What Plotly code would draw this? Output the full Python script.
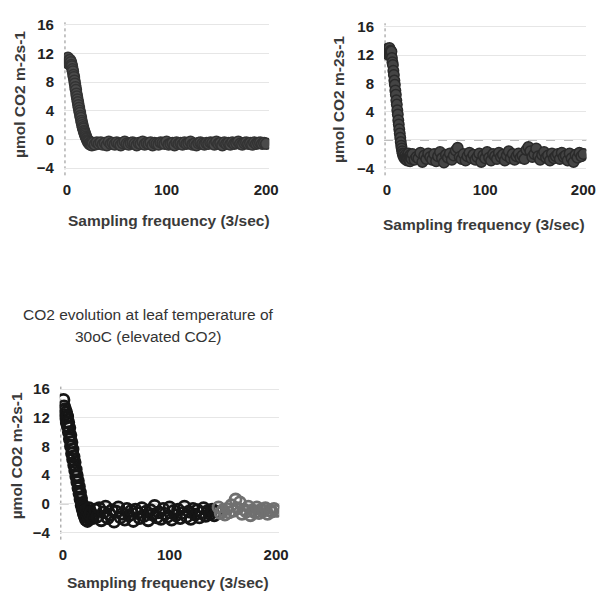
import plotly.graph_objects as go

# ---------------- data ----------------
# sampling index: half-steps through the fast decay, then every 2nd sample
x_decay = [i / 2 for i in range(0, 51)]          # 0 .. 25
x_rest = list(range(26, 201, 2))                 # 26 .. 200
x_samples = x_decay + x_rest

y_panel1 = [
    # decay (x = 0 .. 25 by 0.5)
    11.2, 10.8, 11.4, 10.6, 11.0, 10.5, 11.1, 10.6, 10.8, 10.4,
    10.2, 9.8, 9.5, 9.0, 8.7, 8.2, 7.8, 7.3, 6.9, 6.4,
    6.0, 5.6, 5.2, 4.8, 4.4, 4.0, 3.7, 3.3, 3.0, 2.6,
    2.3, 2.0, 1.7, 1.5, 1.2, 1.0, 0.8, 0.6, 0.4, 0.2,
    0.1, -0.1, -0.2, -0.4, -0.3, -0.6, -0.5, -0.7, -0.4, -0.6, -0.8,
    # steady state (x = 26 .. 200 by 2)
    -0.5, -0.7, -0.4,
    -0.6, -0.4, -0.7, -0.5, -0.8, -0.3, -0.6, -0.5, -0.7, -0.4,
    -0.6, -0.8, -0.5, -0.3, -0.6, -0.7, -0.5, -0.4, -0.6, -0.8,
    -0.5, -0.6, -0.3, -0.7, -0.5, -0.6, -0.4, -0.8, -0.5, -0.6,
    -0.7, -0.4, -0.5, -0.6, -0.3, -0.7, -0.6, -0.5, -0.8, -0.4,
    -0.6, -0.5, -0.7, -0.4, -0.6, -0.5, -0.3, -0.7, -0.6, -0.8,
    -0.5, -0.4, -0.6, -0.7, -0.5, -0.6, -0.4, -0.5, -0.7, -0.3,
    -0.6, -0.5, -0.8, -0.4, -0.6, -0.5, -0.7, -0.4, -0.6, -0.5,
    -0.3, -0.6, -0.7, -0.5, -0.4, -0.6, -0.5, -0.7, -0.4, -0.6,
    -0.5, -0.4, -0.6, -0.5, -0.6,
]

y_panel2 = [
    12.4, 12.9, 12.1, 12.7, 12.3, 13.0, 12.2, 12.6, 12.0, 12.5,
    11.6, 11.0, 10.6, 9.8, 9.2, 8.4, 7.8, 7.0, 6.4, 5.6,
    5.0, 4.2, 3.6, 2.8, 2.2, 1.5, 0.9, 0.3, -0.3, -0.8,
    -1.2, -1.6, -1.9, -2.2, -2.0, -2.5, -2.3, -2.7, -2.1, -2.6,
    -2.4, -2.9, -2.2, -2.6, -1.9, -2.8, -2.3, -3.0, -2.1, -2.5, -2.7,
    -2.0, -2.8, -2.4,
    -2.6, -1.8, -3.1, -2.2, -2.7, -1.9, -2.4, -2.8, -2.0, -3.0,
    -2.3, -1.7, -2.6, -3.2, -2.1, -2.5, -1.9, -2.8, -2.2, -1.5,
    -1.1, -2.4, -2.7, -2.0, -2.9, -2.3, -1.8, -2.6, -2.1, -2.8,
    -2.4, -1.9, -3.1, -2.2, -2.6, -1.7, -2.5, -2.9, -2.0, -2.3,
    -2.7, -1.8, -2.4, -2.1, -2.9, -2.2, -1.6, -2.6, -2.0, -2.8,
    -2.3, -1.9, -2.5, -2.2, -2.7, -1.4, -1.0, -1.6, -2.4, -2.0,
    -1.2, -2.3, -2.8, -2.1, -1.7, -2.5, -2.2, -2.9, -1.9, -2.6,
    -2.3, -2.0, -2.7, -1.8, -2.4, -2.2, -2.9, -1.9, -2.6, -3.1,
    -2.1, -2.5, -1.8, -2.3, -2.0,
]

y_panel3 = [
    13.0, 14.5, 13.6, 12.4, 13.2, 12.0, 12.8, 11.4, 12.2, 10.8,
    11.4, 10.0, 10.6, 9.0, 9.6, 8.0, 8.6, 7.0, 7.6, 6.2,
    6.6, 5.4, 5.8, 4.6, 4.8, 3.8, 4.0, 3.0, 3.2, 2.2,
    2.4, 1.4, 1.6, 0.6, 0.8, -0.2, 0.0, -0.8, -0.4, -1.4,
    -0.6, -1.8, -1.0, -2.2, -0.8, -1.6, -2.4, -1.2, -2.0, -0.6, -1.5,
    -1.2, -2.0, -0.8,
    -1.8, -0.6, -2.3, -1.2, -0.4, -2.0, -1.5, -0.9, -2.5, -1.1,
    -0.5, -1.9, -1.4, -2.2, -0.7, -1.6, -1.0, -2.4, -0.8, -1.3,
    -2.0, -0.6, -1.7, -1.1, -2.3, -0.9, -1.5, -0.3, -1.9, -1.2,
    -2.1, -0.7, -1.4, -1.8, -0.5, -2.2, -1.0, -1.6, -0.8, -2.0,
    -1.3, -0.4, -1.8, -1.1, -2.1, -0.7, -1.5, -0.9, -1.9, -1.2,
    -0.6, -1.7, -1.0, -1.4, -0.8, -1.6, -1.1, -0.5, -1.3, -0.9,
    -1.5, -0.7, -1.2, -0.2, -1.0, 0.6, -0.6, 0.2, -1.4, -0.8,
    -1.1, -0.4, -1.6, -0.9, -1.2, -0.5, -1.3, -0.8, -1.0, -0.6,
    -1.4, -0.9, -1.1, -0.7, -1.0,
]

y_ticks = [-4, 0, 4, 8, 12, 16]
x_ticks = [0, 100, 200]
y_title = "µmol CO2 m-2s-1"
x_title = "Sampling frequency (3/sec)"
panel3_title = ["CO2 evolution at leaf temperature of", "30oC (elevated CO2)"]
grey_from = 146  # later part of panel 3 drawn lighter

# ---------------- figure ----------------
W, H = 605, 593
OFF = 8  # the page body margin shifts the figure by 8 px
FONT = "Liberation Sans, Arial, sans-serif"

def px(v):
    return (v - OFF) / W

def py(v):
    return 1 - (v - OFF) / H

fig = go.Figure()

fig.add_trace(go.Scatter(
    x=x_samples, y=y_panel1, mode="markers", xaxis="x", yaxis="y",
    marker=dict(symbol="circle", size=11, color="#4a4a4a",
                line=dict(color="#333333", width=1.5)),
    showlegend=False))

fig.add_trace(go.Scatter(
    x=x_samples, y=y_panel2, mode="markers", xaxis="x2", yaxis="y2",
    marker=dict(symbol="circle", size=10.5, color="#444444",
                line=dict(color="#2a2a2a", width=1.5)),
    showlegend=False))

split = x_samples.index(grey_from)
fig.add_trace(go.Scatter(
    x=x_samples[:split], y=y_panel3[:split], mode="markers", xaxis="x3", yaxis="y3",
    marker=dict(symbol="circle-open", size=11, color="#151515",
                line=dict(color="#151515", width=2.8)),
    showlegend=False))
fig.add_trace(go.Scatter(
    x=x_samples[split:], y=y_panel3[split:], mode="markers", xaxis="x3", yaxis="y3",
    marker=dict(symbol="circle-open", size=11, color="#707070",
                line=dict(color="#707070", width=2.8)),
    showlegend=False))

tickfont = dict(family=FONT, size=15, color="#222222", weight="bold")

def xaxis(domain, anchor):
    return dict(domain=domain, anchor=anchor, range=[-3, 203],
                tickvals=x_ticks, ticks="", showgrid=False, zeroline=False,
                showline=False, tickfont=tickfont, ticklabelstandoff=4, fixedrange=True)

def yaxis(domain, anchor):
    return dict(domain=domain, anchor=anchor, range=[-5, 16.5],
                tickvals=y_ticks, ticks="", showgrid=True, gridcolor="#e6e6e6",
                gridwidth=1, zeroline=False, showline=False,
                tickfont=tickfont, ticklabelstandoff=9, fixedrange=True)

fig.update_layout(
    width=W, height=H,
    margin=dict(l=0, r=0, t=0, b=0),
    paper_bgcolor="white", plot_bgcolor="white",
    xaxis=xaxis([px(64), px(273)], "y"),
    yaxis=yaxis([py(172), py(16.4)], "x"),
    xaxis2=xaxis([px(390), px(596)], "y2"),
    yaxis2=yaxis([py(172), py(18.4)], "x2"),
    xaxis3=xaxis([px(59.7), px(283.3)], "y3"),
    yaxis3=yaxis([py(540), py(384.4)], "x3"),
)

# dotted left edges and dashed zero lines
for xr, yr in [("x", "y"), ("x2", "y2"), ("x3", "y3")]:
    fig.add_shape(type="line", xref=xr, yref=yr + " domain", x0=-2, x1=-2, y0=0, y1=1,
                  line=dict(color="#8a8a8a", width=1, dash="dot"), layer="below")
    fig.add_shape(type="line", xref=xr + " domain", yref=yr, x0=0, x1=1, y0=0, y1=0,
                  line=dict(color="#7a7a7a", width=1, dash="dash"), layer="below")

titlefont = dict(family=FONT, size=15.5, color="#3a3a3a", weight="bold")

annos = [
    dict(text=y_title, x=px(18), y=py(90), textangle=-90),
    dict(text=x_title, x=px(171), y=py(218)),
    dict(text=y_title, x=px(343), y=py(95), textangle=-90),
    dict(text=x_title, x=px(492), y=py(222)),
    dict(text=y_title, x=px(16), y=py(455), textangle=-90),
    dict(text=x_title, x=px(170), y=py(583)),
]
for a in annos:
    fig.add_annotation(xref="paper", yref="paper", showarrow=False,
                       xanchor="center", yanchor="middle", font=titlefont, **a)

for i, line in enumerate(panel3_title):
    fig.add_annotation(text=line, xref="paper", yref="paper", showarrow=False,
                       x=px(150), y=py(313 + 22 * i), xanchor="center", yanchor="middle",
                       font=dict(family=FONT, size=15.5, color="#333333"))

fig.write_html("out.html")
